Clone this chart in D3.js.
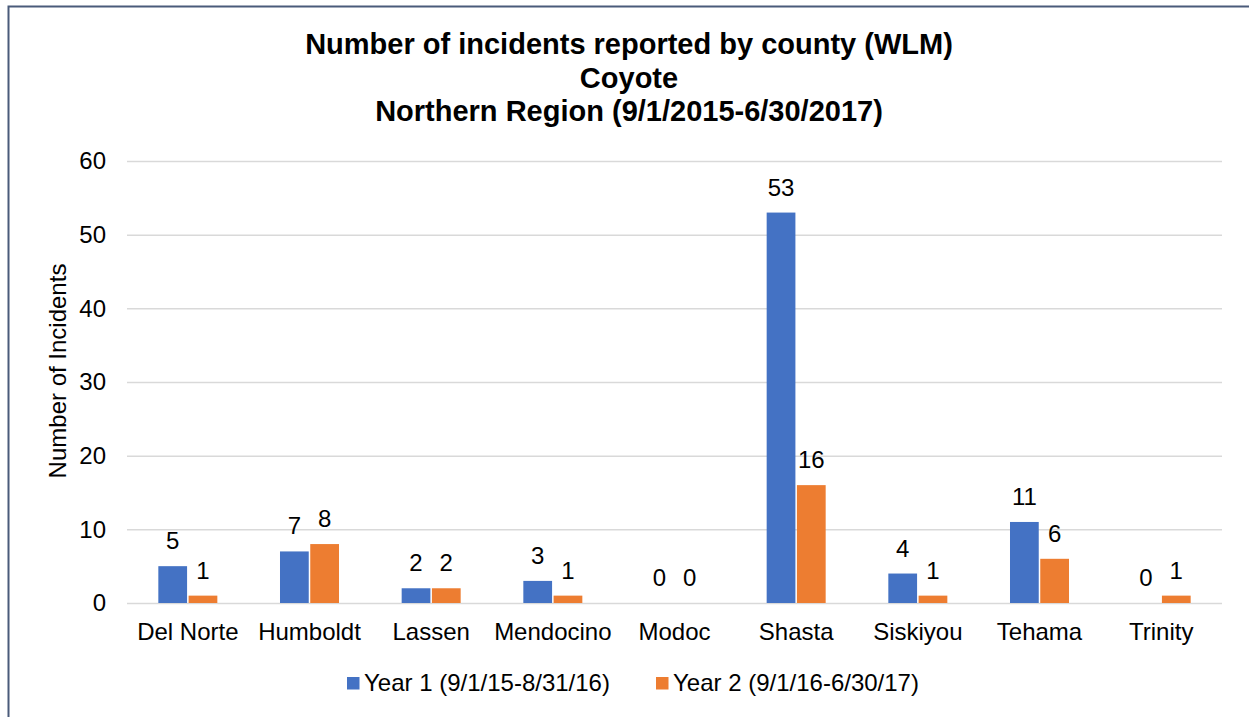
<!DOCTYPE html>
<html>
<head>
<meta charset="utf-8">
<script src="https://cdn.jsdelivr.net/npm/d3@7"></script>
<style>
  body { margin: 0; background: #fff; }
  svg { display: block; font-family: "Liberation Sans", Arial, sans-serif; }
</style>
</head>
<body>
<svg id="chart" width="1249" height="717"></svg>
<script>
'use strict';

// data
const counties = ['Del Norte', 'Humboldt', 'Lassen', 'Mendocino', 'Modoc', 'Shasta', 'Siskiyou', 'Tehama', 'Trinity'];
const seriesNames = ['Year 1 (9/1/15-8/31/16)', 'Year 2 (9/1/16-6/30/17)'];
const year1 = [5, 7, 2, 3, 0, 53, 4, 11, 0];
const year2 = [1, 8, 2, 1, 0, 16, 1, 6, 1];
const yTicks = [0, 10, 20, 30, 40, 50, 60];
const titleLines = ['Number of incidents reported by county (WLM)', 'Coyote', 'Northern Region (9/1/2015-6/30/2017)'];
const colors = ['#4472C4', '#ED7D31'];

const svg = d3.select('#chart');
const plot = { left: 127, right: 1222, top: 161, bottom: 603 };
const fontSize = 24;

// outer frame (runs off right and bottom edges)
svg.append('rect')
    .attr('x', 8.5).attr('y', 6.5)
    .attr('width', 1260).attr('height', 730)
    .attr('fill', 'none')
    .attr('stroke', '#4a5b7a')
    .attr('stroke-width', 2);

// title
svg.append('g').selectAll('text')
    .data(titleLines)
    .join('text')
    .attr('x', 629)
    .attr('y', (d, i) => 54 + i * 33.5)
    .attr('text-anchor', 'middle')
    .attr('font-size', 29)
    .attr('font-weight', 'bold')
    .attr('fill', '#000')
    .text(d => d);

// scales
const x0 = d3.scaleBand()
    .domain(counties)
    .range([plot.left, plot.right])
    .paddingInner(0.515)
    .paddingOuter(0.2575);

const x1 = d3.scaleBand()
    .domain([0, 1])
    .range([0, x0.bandwidth()])
    .paddingInner(0.05);

const y = d3.scaleLinear()
    .domain([0, 60])
    .range([plot.bottom, plot.top]);

// gridlines
svg.append('g')
    .attr('transform', `translate(${plot.left},0)`)
    .call(d3.axisLeft(y).tickValues(yTicks).tickSize(-(plot.right - plot.left)).tickFormat(''))
    .call(g => g.select('.domain').remove())
    .call(g => g.selectAll('line').attr('stroke', '#d9d9d9').attr('stroke-width', 1.5));

// y tick labels
svg.append('g')
    .attr('transform', `translate(106,0)`)
    .call(d3.axisLeft(y).tickValues(yTicks).tickSize(0).tickPadding(0))
    .call(g => g.select('.domain').remove())
    .call(g => g.selectAll('text')
        .attr('font-size', fontSize)
        .attr('font-family', '"Liberation Sans", Arial, sans-serif')
        .attr('fill', '#000'));

// x category labels
svg.append('g')
    .attr('transform', `translate(0,${plot.bottom})`)
    .call(d3.axisBottom(x0).tickSize(0).tickPadding(20))
    .call(g => g.select('.domain').remove())
    .call(g => g.selectAll('text')
        .attr('font-size', fontSize)
        .attr('font-family', '"Liberation Sans", Arial, sans-serif')
        .attr('fill', '#000'));

// y axis title
svg.append('text')
    .attr('transform', 'translate(66,371) rotate(-90)')
    .attr('text-anchor', 'middle')
    .attr('font-size', fontSize)
    .attr('fill', '#000')
    .text('Number of Incidents');

// bars
const series = [year1, year2];
const groups = svg.append('g').selectAll('g')
    .data(counties)
    .join('g')
    .attr('transform', d => `translate(${x0(d)},0)`);

groups.selectAll('rect')
    .data((d, i) => series.map((s, k) => ({ k, v: s[i] })))
    .join('rect')
    .attr('x', d => x1(d.k))
    .attr('width', x1.bandwidth())
    .attr('y', d => y(d.v))
    .attr('height', d => y(0) - y(d.v))
    .attr('fill', d => colors[d.k]);

// data labels
groups.selectAll('text')
    .data((d, i) => series.map((s, k) => ({ k, v: s[i] })))
    .join('text')
    .attr('x', d => x1(d.k) + x1.bandwidth() / 2)
    .attr('y', d => y(d.v) - 17)
    .attr('text-anchor', 'middle')
    .attr('font-size', fontSize)
    .attr('fill', '#000')
    .text(d => d.v);

// legend
const legendItems = [
    { name: seriesNames[0], color: colors[0], x: 347 },
    { name: seriesNames[1], color: colors[1], x: 656 }
];
const legend = svg.append('g').selectAll('g')
    .data(legendItems)
    .join('g')
    .attr('transform', d => `translate(${d.x},677)`);
legend.append('rect')
    .attr('width', 12.5).attr('height', 12.5)
    .attr('fill', d => d.color);
legend.append('text')
    .attr('x', 17)
    .attr('y', 14)
    .attr('font-size', fontSize)
    .attr('fill', '#000')
    .text(d => d.name);
</script>
</body>
</html>
